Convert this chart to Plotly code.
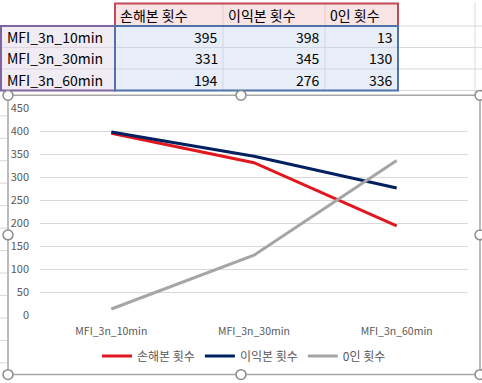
import plotly.graph_objects as go

categories = ["MFI_3n_10min", "MFI_3n_30min", "MFI_3n_60min"]
series_names = ["손해본 횟수", "이익본 횟수", "0인 횟수"]
loss_counts = [395, 331, 194]
profit_counts = [398, 345, 276]
zero_counts = [13, 130, 336]
y_ticks = [0, 50, 100, 150, 200, 250, 300, 350, 400, 450]

colors = ["#E0171E", "#002060", "#A5A5A5"]
series_values = [loss_counts, profit_counts, zero_counts]

W, H = 482, 383
PL, PR, PT, PB = 40, 468, 108, 320


def px(x):
    return (x - PL) / (PR - PL)


def py(y):
    return (PB - y) / (PB - PT)


fig = go.Figure()
for name, vals, c in zip(series_names, series_values, colors):
    fig.add_trace(go.Scatter(x=categories, y=vals, name=name, mode="lines",
                             line=dict(color=c, width=3)))

shapes = []
annos = []


def rect(x0, y0, x1, y1, fill=None, line=None, lw=1):
    shapes.append(dict(type="rect", xref="paper", yref="paper",
                       x0=px(x0), x1=px(x1), y0=py(y0), y1=py(y1),
                       fillcolor=fill if fill else "rgba(0,0,0,0)",
                       line=dict(color=line if line else "rgba(0,0,0,0)", width=lw if line else 0),
                       layer="below"))


def hline(x0, x1, y, color, w=1):
    shapes.append(dict(type="line", xref="paper", yref="paper",
                       x0=px(x0), x1=px(x1), y0=py(y), y1=py(y),
                       line=dict(color=color, width=w), layer="below"))


def vline(x, y0, y1, color, w=1):
    shapes.append(dict(type="line", xref="paper", yref="paper",
                       x0=px(x), x1=px(x), y0=py(y0), y1=py(y1),
                       line=dict(color=color, width=w), layer="below"))


def text(x, y, s, anchor="left", size=14, color="#000000"):
    annos.append(dict(xref="paper", yref="paper", x=px(x), y=py(y), text=s,
                      showarrow=False, xanchor=anchor, yanchor="middle",
                      font=dict(size=size, color=color, family="Noto Sans CJK KR, Noto Sans, sans-serif")))


# sheet grid lines (outside table)
grid = "#D9D9D9"
for yy in [24, 46, 68, 90]:
    hline(398, 482, yy, grid)
vline(475, 0, 92, grid)
hline(0, 115, 24, grid)
for yy in [116, 139, 162, 185, 208, 231, 254, 277, 300, 323, 346, 369]:
    hline(0, 7, yy, grid)

# table
col_x = [0, 115, 223, 325, 398]
row_y = [0, 24, 46, 68, 90]
rect(115, 1, 398, 24, fill="#F8E4E4")
rect(1, 24, 115, 90, fill="#F1ECF4")
rect(115, 24, 398, 90, fill="#E7EEF8")
for yy in [46, 68]:
    hline(115, 398, yy, "#D0D7E2")
    hline(1, 115, yy, "#DCD6E2")
for xx in [223, 325]:
    vline(xx, 24, 90, "#D0D7E2")
    vline(xx, 1, 24, "#E6CACA")
rect(115, 1, 398, 24, line="#BE4B55", lw=2)
rect(1, 24, 115, 90, line="#8064A2", lw=2)
rect(115, 24, 398, 90, line="#4F73A8", lw=2)

for i, nm in enumerate(series_names):
    text(col_x[i + 1] + 3, 13, nm)
for r, cat in enumerate(categories):
    yc = (row_y[r + 1] + row_y[r + 2]) / 2
    text(5, yc, cat)
    for ci, vals in enumerate(series_values):
        text(col_x[ci + 2] - 3, yc, str(vals[r]), anchor="right")

# chart area border + handles
shapes.append(dict(type="rect", xref="paper", yref="paper",
                   x0=px(8), x1=px(480), y0=py(95), y1=py(381),
                   line=dict(color="#A6A6A6", width=1.5), fillcolor="rgba(0,0,0,0)", layer="below"))
for hx, hy in [(8, 95), (241, 95), (480, 95), (8, 238), (480, 238), (8, 381), (241, 381), (480, 381)]:
    shapes.append(dict(type="circle", xref="paper", yref="paper",
                       x0=px(hx - 5), x1=px(hx + 5), y0=py(hy - 5), y1=py(hy + 5),
                       line=dict(color="#8C8C8C", width=1.5), fillcolor="#FFFFFF", layer="above"))

fig.update_layout(
    width=W, height=H,
    margin=dict(l=PL, r=W - PR, t=PT, b=H - PB),
    paper_bgcolor="#FFFFFF", plot_bgcolor="#FFFFFF",
    font=dict(family="Noto Sans CJK KR, Noto Sans, sans-serif", color="#595959", size=11),
    showlegend=True,
    legend=dict(orientation="h", x=px(244), xanchor="center", y=py(362), yanchor="middle",
                font=dict(size=12, color="#595959"), itemwidth=30, tracegroupgap=0,
                bgcolor="rgba(0,0,0,0)"),
    shapes=shapes, annotations=annos,
)
fig.update_xaxes(type="category", range=[-0.5, 2.5], showgrid=False, showline=False,
                 ticks="", ticklabelstandoff=8, tickfont=dict(size=10.5, color="#595959"))
fig.update_yaxes(range=[0, 450], tickvals=y_ticks, showgrid=True, gridcolor="#D9D9D9",
                 zeroline=False, showline=False, ticks="", ticklabelstandoff=10,
                 tickfont=dict(size=11, color="#595959"))

fig.write_html("out.html", config={"displayModeBar": False},
               post_script="document.body.style.margin='0';document.body.style.overflow='hidden';")
